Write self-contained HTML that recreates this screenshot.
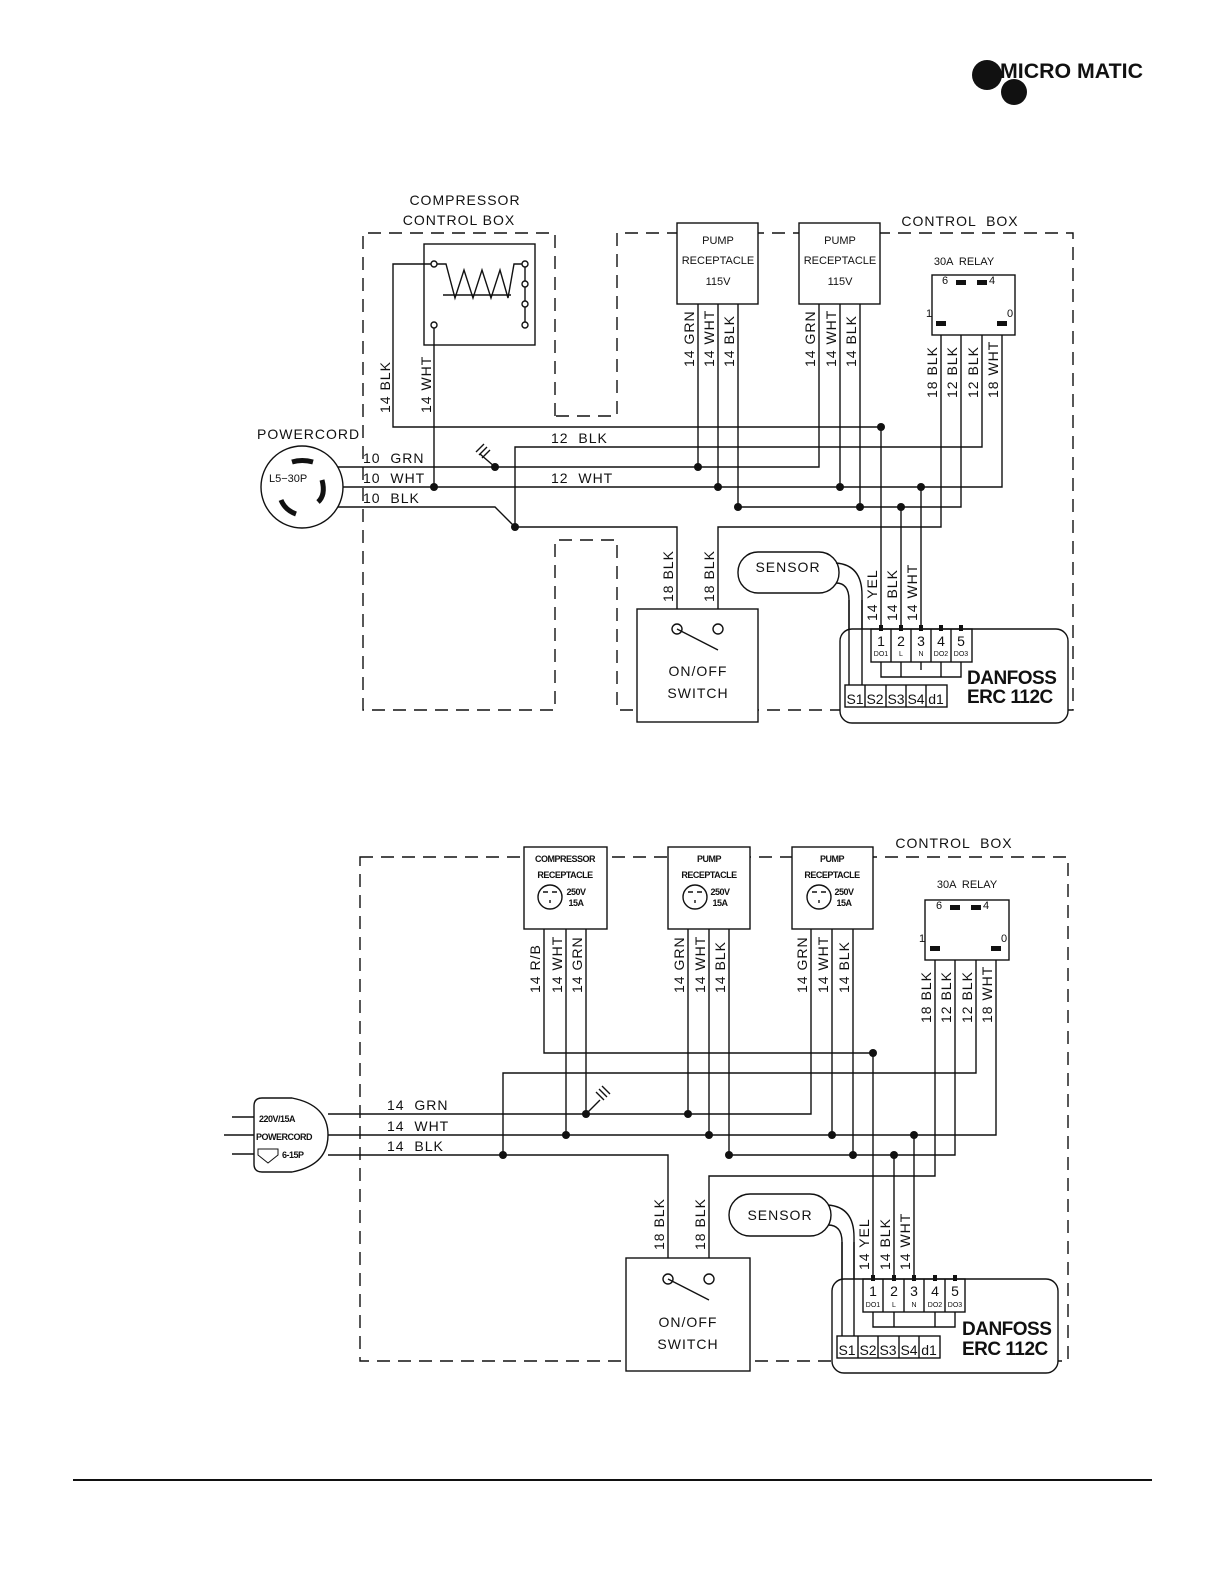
<!DOCTYPE html>
<html><head><meta charset="utf-8"><style>
html,body{margin:0;padding:0;background:#fff}
svg{display:block}
text{font-family:"Liberation Sans",sans-serif;fill:#111}
.l{font-size:14px;letter-spacing:1px}
.s{font-size:12px}
.b{font-weight:bold}
</style></head><body>
<svg width="1224" height="1584" viewBox="0 0 1224 1584" xmlns="http://www.w3.org/2000/svg">
<g stroke="#111" stroke-width="1.4" fill="none">
<path d="M555,416 V233 H363 V710 H555 V540 H617 V710 H1073 V233 H617 V416 H555" stroke-dasharray="13,8"/>
<rect x="424" y="244" width="111" height="101" fill="#fff"/>
<path d="M434,264 H446 L455,298 L464,270 L473,298 L482,270 L491,298 L500,270 L508,298 L514,264 H525"/>
<path d="M443,295 H511"/>
<path d="M525,264 V325"/>
<g fill="#fff"><circle cx="434" cy="264" r="3"/><circle cx="525" cy="264" r="3"/><circle cx="525" cy="284" r="3"/><circle cx="525" cy="304" r="3"/><circle cx="434" cy="325" r="3"/><circle cx="525" cy="325" r="3"/></g>
<path d="M431,264 H393 V427 H881 V629"/>
<path d="M434,328 V487"/>
<path d="M515,527 V447 H982 V284"/>
<path d="M338,467 H819 V304"/>
<path d="M343,487 H1002 V325"/>
<path d="M338,507 H495 L515,527 H677 V629"/>
<path d="M738,304 V507 H961 V284"/>
<path d="M718,629 V527 H941 V325"/>
<path d="M698,304 V467"/>
<path d="M718,304 V487"/>
<path d="M840,304 V487"/>
<path d="M860,304 V507"/>
<path d="M901,507 V629"/>
<path d="M921,487 V629"/>
<path d="M495,467 L480,454 M476,452 l8,-8 M479,455 l8,-8 M482,458 l8,-8"/>
<rect x="677" y="223" width="81" height="81" fill="#fff"/>
<rect x="799" y="223" width="81" height="81" fill="#fff"/>
<rect x="932" y="275" width="83" height="60" fill="#fff"/>
<circle cx="302" cy="487" r="41" fill="#fff"/>
<rect x="637" y="609" width="121" height="113" fill="#fff"/>
<circle cx="677" cy="629" r="5" fill="#fff"/><circle cx="718" cy="629" r="5" fill="#fff"/>
<path d="M677,629 L718,650"/>
<rect x="738" y="552" width="101" height="41" rx="20" fill="#fff"/>
<path d="M836,563 Q862,565 862,595 V685 M836,583 Q849,583 849,600 V685"/>
<rect x="840" y="629" width="228" height="94" rx="12" fill="#fff"/>
<path d="M849,600 V685 M862,600 V685"/>
<rect x="871" y="629" width="101" height="33"/>
<path d="M891,629 V662 M911,629 V662 M931,629 V662 M951,629 V662"/>
<path d="M881,662 V677 H961 V662 M901,662 V677 M941,662 V677 M921,662 V670"/>
<rect x="845" y="685" width="102" height="22"/>
<path d="M865,685 V707 M886,685 V707 M906,685 V707 M926,685 V707"/>
<rect x="360" y="857" width="708" height="504" stroke-dasharray="13,8"/>
<path d="M544,929 V1053 H873 V1279"/>
<path d="M566,929 V1135"/>
<path d="M586,929 V1114"/>
<path d="M503,1155 V1073 H976 V909"/>
<path d="M328,1114 H811 V929"/>
<path d="M328,1135 H996 V950"/>
<path d="M328,1155 H668 V1279"/>
<path d="M729,929 V1155 H955 V909"/>
<path d="M709,1279 V1176 H935 V950"/>
<path d="M688,929 V1114"/>
<path d="M709,929 V1135"/>
<path d="M832,929 V1135"/>
<path d="M853,929 V1155"/>
<path d="M894,1155 V1279"/>
<path d="M914,1135 V1279"/>
<path d="M586,1114 L600,1100 M596,1092 l8,8 M599,1089 l8,8 M602,1086 l8,8"/>
<path d="M232,1117 H254 M224,1135 H254 M232,1154 H254"/>
<path d="M262,1098 H292 Q328,1105 328,1135 Q328,1165 292,1172 H262 Q254,1172 254,1164 V1106 Q254,1098 262,1098 Z" fill="#fff"/>
<rect x="524" y="847" width="83" height="82" fill="#fff"/>
<rect x="668" y="847" width="82" height="82" fill="#fff"/>
<rect x="792" y="847" width="81" height="82" fill="#fff"/>
<rect x="925" y="900" width="84" height="60" fill="#fff"/>
<g fill="#fff">
<circle cx="550" cy="897" r="12"/><circle cx="695" cy="897" r="12"/><circle cx="819" cy="897" r="12"/>
</g>
<path d="M543,892 h5 M552,892 h5 M688,892 h5 M697,892 h5 M812,892 h5 M821,892 h5 M550,903 v-3 M695,903 v-3 M819,903 v-3"/>
<rect x="626" y="1258" width="124" height="113" fill="#fff"/>
<circle cx="668" cy="1279" r="5" fill="#fff"/><circle cx="709" cy="1279" r="5" fill="#fff"/>
<path d="M668,1279 L709,1300"/>
<rect x="729" y="1194" width="102" height="42" rx="21" fill="#fff"/>
<path d="M828,1205 Q854,1207 854,1237 V1336 M828,1225 Q842,1225 842,1242 V1336"/>
<rect x="832" y="1279" width="226" height="94" rx="12" fill="#fff"/>
<path d="M842,1242 V1336 M854,1242 V1336"/>
<rect x="863" y="1279" width="102" height="33"/>
<path d="M883,1279 V1312 M904,1279 V1312 M924,1279 V1312 M945,1279 V1312"/>
<path d="M873,1312 V1327 H955 V1312 M894,1312 V1327 M935,1312 V1327"/>
<rect x="837" y="1336" width="103" height="22"/>
<path d="M858,1336 V1358 M878,1336 V1358 M899,1336 V1358 M919,1336 V1358"/>
<path d="M73,1480 H1152" stroke-width="2"/>
</g>
<g stroke="#111" stroke-width="5" fill="none">
<path d="M292,462 Q302,459 313,462"/>
<path d="M322,480 Q326,495 318,502"/>
<path d="M281,500 Q285,510 296,514"/>
</g>
<g fill="#111">
<rect x="956" y="280" width="10" height="5"/><rect x="977" y="280" width="10" height="5"/>
<rect x="936" y="321" width="10" height="5"/><rect x="997" y="321" width="10" height="5"/>
<rect x="950" y="905" width="10" height="5"/><rect x="971" y="905" width="10" height="5"/>
<rect x="930" y="946" width="10" height="5"/><rect x="991" y="946" width="10" height="5"/>
<rect x="879" y="625" width="4" height="6"/><rect x="899" y="625" width="4" height="6"/><rect x="919" y="625" width="4" height="6"/><rect x="939" y="625" width="4" height="6"/><rect x="959" y="625" width="4" height="6"/>
<rect x="871" y="1275" width="4" height="6"/><rect x="892" y="1275" width="4" height="6"/><rect x="912" y="1275" width="4" height="6"/><rect x="933" y="1275" width="4" height="6"/><rect x="953" y="1275" width="4" height="6"/>
<circle cx="881" cy="427" r="4"/><circle cx="495" cy="467" r="4"/><circle cx="698" cy="467" r="4"/>
<circle cx="434" cy="487" r="4"/><circle cx="718" cy="487" r="4"/><circle cx="840" cy="487" r="4"/><circle cx="921" cy="487" r="4"/>
<circle cx="738" cy="507" r="4"/><circle cx="860" cy="507" r="4"/><circle cx="901" cy="507" r="4"/><circle cx="515" cy="527" r="4"/>
<circle cx="873" cy="1053" r="4"/><circle cx="586" cy="1114" r="4"/><circle cx="688" cy="1114" r="4"/>
<circle cx="566" cy="1135" r="4"/><circle cx="709" cy="1135" r="4"/><circle cx="832" cy="1135" r="4"/><circle cx="914" cy="1135" r="4"/>
<circle cx="503" cy="1155" r="4"/><circle cx="729" cy="1155" r="4"/><circle cx="853" cy="1155" r="4"/><circle cx="894" cy="1155" r="4"/>
<circle cx="987" cy="75" r="15"/><circle cx="1014" cy="92" r="13"/>
</g>
<text x="1000" y="78" class="b" font-size="21" textLength="143" lengthAdjust="spacingAndGlyphs">MICRO MATIC</text>
<g class="l">
<text x="465" y="205" text-anchor="middle">COMPRESSOR</text>
<text x="459" y="225" text-anchor="middle">CONTROL  BOX</text>
<text x="960" y="226" text-anchor="middle" xml:space="preserve">CONTROL  BOX</text>
<text x="257" y="439">POWERCORD</text>
<text x="363" y="463" xml:space="preserve">10  GRN</text>
<text x="363" y="483" xml:space="preserve">10  WHT</text>
<text x="363" y="503" xml:space="preserve">10  BLK</text>
<text x="551" y="443" xml:space="preserve">12  BLK</text>
<text x="551" y="483" xml:space="preserve">12  WHT</text>
<text x="698" y="676" text-anchor="middle">ON/OFF</text>
<text x="698" y="698" text-anchor="middle">SWITCH</text>
<text x="788" y="572" text-anchor="middle">SENSOR</text>
<text x="387" y="1110" xml:space="preserve">14  GRN</text>
<text x="387" y="1131" xml:space="preserve">14  WHT</text>
<text x="387" y="1151" xml:space="preserve">14  BLK</text>
<text x="954" y="848" text-anchor="middle" xml:space="preserve">CONTROL  BOX</text>
<text x="688" y="1327" text-anchor="middle">ON/OFF</text>
<text x="688" y="1349" text-anchor="middle">SWITCH</text>
<text x="780" y="1220" text-anchor="middle">SENSOR</text>
</g>
<g font-size="11">
<text x="718" y="244" text-anchor="middle">PUMP</text><text x="718" y="264" text-anchor="middle">RECEPTACLE</text><text x="718" y="285" text-anchor="middle">115V</text>
<text x="840" y="244" text-anchor="middle">PUMP</text><text x="840" y="264" text-anchor="middle">RECEPTACLE</text><text x="840" y="285" text-anchor="middle">115V</text>
<text x="964" y="265" text-anchor="middle" xml:space="preserve">30A  RELAY</text>
<text x="942" y="284">6</text><text x="989" y="284">4</text><text x="926" y="317">1</text><text x="1007" y="317">0</text>
<text x="967" y="888" text-anchor="middle" xml:space="preserve">30A  RELAY</text>
<text x="936" y="909">6</text><text x="983" y="909">4</text><text x="919" y="942">1</text><text x="1001" y="942">0</text>
<text x="269" y="482" font-size="11">L5−30P</text>
</g>
<g font-size="9" class="b" text-anchor="middle" letter-spacing="-0.5">
<text x="565" y="862">COMPRESSOR</text><text x="565" y="878">RECEPTACLE</text>
<text x="709" y="862">PUMP</text><text x="709" y="878">RECEPTACLE</text>
<text x="832" y="862">PUMP</text><text x="832" y="878">RECEPTACLE</text>
<text x="576" y="895">250V</text><text x="576" y="906">15A</text>
<text x="720" y="895">250V</text><text x="720" y="906">15A</text>
<text x="844" y="895">250V</text><text x="844" y="906">15A</text>
</g>
<g font-size="9" class="b" letter-spacing="-0.5">
<text x="259" y="1122">220V/15A</text><text x="256" y="1140">POWERCORD</text><text x="282" y="1158">6-15P</text>
</g>
<path d="M258,1149 h20 v6 l-10,8 l-10,-8 z" fill="none" stroke="#111" stroke-width="1"/>
<g font-size="14" text-anchor="middle">
<text x="881" y="646">1</text><text x="901" y="646">2</text><text x="921" y="646">3</text><text x="941" y="646">4</text><text x="961" y="646">5</text>
<text x="855" y="704">S1</text><text x="875" y="704">S2</text><text x="896" y="704">S3</text><text x="916" y="704">S4</text><text x="936" y="704">d1</text>
<text x="873" y="1296">1</text><text x="894" y="1296">2</text><text x="914" y="1296">3</text><text x="935" y="1296">4</text><text x="955" y="1296">5</text>
<text x="847" y="1355">S1</text><text x="868" y="1355">S2</text><text x="888" y="1355">S3</text><text x="909" y="1355">S4</text><text x="929" y="1355">d1</text>
</g>
<g font-size="7" text-anchor="middle">
<text x="881" y="656">DO1</text><text x="901" y="656">L</text><text x="921" y="656">N</text><text x="941" y="656">DO2</text><text x="961" y="656">DO3</text>
<text x="873" y="1307">DO1</text><text x="894" y="1307">L</text><text x="914" y="1307">N</text><text x="935" y="1307">DO2</text><text x="955" y="1307">DO3</text>
</g>
<g class="b" font-size="19" letter-spacing="-0.5">
<text x="967" y="684">DANFOSS</text><text x="967" y="703">ERC 112C</text>
<text x="962" y="1335">DANFOSS</text><text x="962" y="1355">ERC 112C</text>
</g>
<g class="l" xml:space="preserve">
<text transform="translate(390,413) rotate(-90)">14  BLK</text>
<text transform="translate(431,413) rotate(-90)">14  WHT</text>
<text transform="translate(694,367) rotate(-90)">14  GRN</text>
<text transform="translate(714,367) rotate(-90)">14  WHT</text>
<text transform="translate(734,367) rotate(-90)">14  BLK</text>
<text transform="translate(815,367) rotate(-90)">14  GRN</text>
<text transform="translate(836,367) rotate(-90)">14  WHT</text>
<text transform="translate(856,367) rotate(-90)">14  BLK</text>
<text transform="translate(937,398) rotate(-90)">18  BLK</text>
<text transform="translate(957,398) rotate(-90)">12  BLK</text>
<text transform="translate(978,398) rotate(-90)">12  BLK</text>
<text transform="translate(998,398) rotate(-90)">18  WHT</text>
<text transform="translate(673,602) rotate(-90)">18  BLK</text>
<text transform="translate(714,602) rotate(-90)">18  BLK</text>
<text transform="translate(877,621) rotate(-90)">14  YEL</text>
<text transform="translate(897,621) rotate(-90)">14  BLK</text>
<text transform="translate(917,621) rotate(-90)">14  WHT</text>
<text transform="translate(540,993) rotate(-90)">14  R/B</text>
<text transform="translate(562,993) rotate(-90)">14  WHT</text>
<text transform="translate(582,993) rotate(-90)">14  GRN</text>
<text transform="translate(684,993) rotate(-90)">14  GRN</text>
<text transform="translate(705,993) rotate(-90)">14  WHT</text>
<text transform="translate(725,993) rotate(-90)">14  BLK</text>
<text transform="translate(807,993) rotate(-90)">14  GRN</text>
<text transform="translate(828,993) rotate(-90)">14  WHT</text>
<text transform="translate(849,993) rotate(-90)">14  BLK</text>
<text transform="translate(931,1023) rotate(-90)">18  BLK</text>
<text transform="translate(951,1023) rotate(-90)">12  BLK</text>
<text transform="translate(972,1023) rotate(-90)">12  BLK</text>
<text transform="translate(992,1023) rotate(-90)">18  WHT</text>
<text transform="translate(664,1250) rotate(-90)">18  BLK</text>
<text transform="translate(705,1250) rotate(-90)">18  BLK</text>
<text transform="translate(869,1270) rotate(-90)">14  YEL</text>
<text transform="translate(890,1270) rotate(-90)">14  BLK</text>
<text transform="translate(910,1270) rotate(-90)">14  WHT</text>
</g>
</svg>
</body></html>
